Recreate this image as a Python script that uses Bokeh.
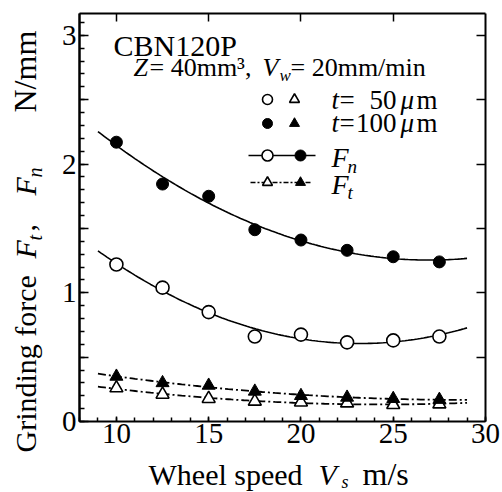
import numpy as np
from bokeh.plotting import figure
from bokeh.models import Range1d, LinearAxis, FixedTicker, Label
from bokeh.embed import file_html
from bokeh.resources import INLINE

# Wheel speed (m/s) and measured grinding forces (N/mm)
speed = [10, 12.5, 15, 17.5, 20, 22.5, 25, 27.5]
fn_t50 = [1.22, 1.04, 0.85, 0.66, 0.675, 0.615, 0.63, 0.66]
fn_t100 = [2.17, 1.845, 1.75, 1.49, 1.41, 1.33, 1.28, 1.24]
ft_t50 = [0.26, 0.21, 0.177, 0.156, 0.15, 0.143, 0.13, 0.135]
ft_t100 = [0.35, 0.30, 0.28, 0.234, 0.20, 0.187, 0.177, 0.17]

x_ticks = [10, 15, 20, 25, 30]
y_ticks = [0, 1, 2, 3]
y_half_ticks = [0.5, 1.5, 2.5]

FONT = "Liberation Serif"
W, H = 502, 492
XMIN, XMAX = 8, 30          # axis box, data units
YMIN, YMAX = 0, 3.17
FL, FR, FT, FB = 79, 485, 13, 421  # axis box edges on the canvas

# the plotting frame spans the whole canvas; the axes sit on the box edges
XPP = (XMAX - XMIN) / (FR - FL)
YPP = (YMAX - YMIN) / (FB - FT)
X_LO = XMIN - FL * XPP
X_HI = X_LO + W * XPP
Y_HI = YMAX + FT * YPP
Y_LO = Y_HI - H * YPP


def X(px):
    return X_LO + px * XPP


def Y(py):
    return Y_HI - py * YPP


p = figure(width=W, height=H, output_backend="svg", toolbar_location=None,
           x_range=Range1d(X_LO, X_HI), y_range=Range1d(Y_LO, Y_HI),
           min_border=0, x_axis_type=None, y_axis_type=None)
p.grid.visible = False
p.outline_line_color = None
p.background_fill_color = "white"
p.border_fill_color = "white"


def axis(ticks, minor, loc, bounds, tick_in, minor_in=0, labelled=False):
    ax = LinearAxis(ticker=FixedTicker(ticks=ticks, minor_ticks=minor),
                    fixed_location=loc, bounds=bounds)
    ax.axis_line_width = 2
    ax.major_tick_out = 0
    ax.minor_tick_out = 0
    ax.major_tick_in = tick_in
    ax.minor_tick_in = minor_in
    ax.major_tick_line_width = 1.5
    ax.minor_tick_line_width = 1.5
    ax.major_label_text_font = FONT
    ax.major_label_text_font_size = "29px"
    ax.major_label_text_color = "black" if labelled else None
    return ax


ybounds = (YMIN, YMAX)
xbounds = (XMIN, XMAX)
left = axis(y_ticks, [round(0.1 * i, 1) for i in range(0, 32)], XMIN, ybounds,
            9, 5, labelled=True)
left.major_label_standoff = 3
left_half = axis(y_half_ticks, [], XMIN, ybounds, 9)
bottom = axis(x_ticks, list(range(8, 31)), YMIN, xbounds, 5, 4, labelled=True)
bottom.major_label_standoff = 2
top = axis([10, 15, 20, 25], [], YMAX, xbounds, 8)
right = axis([0.5, 1, 1.5, 2, 2.5, 3], [], XMAX, ybounds, 9)

p.add_layout(left, "left")
p.add_layout(left_half, "left")
p.add_layout(bottom, "below")
p.add_layout(top, "above")
p.add_layout(right, "right")

# quadratic fits through each series
xs = np.linspace(9, 29, 120)


def fit(vals):
    c = np.polyfit(speed, vals, 2)
    return np.polyval(c, xs)


p.line(xs, fit(fn_t50), line_color="black", line_width=1.6)
p.line(xs, fit(fn_t100), line_color="black", line_width=1.6)
DASH = "8 3 2 3"
p.line(xs, fit(ft_t50), line_color="black", line_width=1.8, line_dash=DASH)
p.line(xs, fit(ft_t100), line_color="black", line_width=1.8, line_dash=DASH)

p.scatter(speed, fn_t50, marker="circle", size=13, fill_color="white",
          line_color="black", line_width=1.6)
p.scatter(speed, fn_t100, marker="circle", size=12, fill_color="black",
          line_color="black")
p.scatter(speed, ft_t50, marker="triangle", size=13, fill_color="white",
          line_color="black", line_width=1.6)
p.scatter(speed, ft_t100, marker="triangle", size=13, fill_color="black",
          line_color="black")

# baseline correction for text placement (fraction of the font size)
LIFT = 0.33


def label(px, py, text, size=28, style="normal", angle=0.0, align="left"):
    if angle:
        px -= LIFT * size
    else:
        py -= LIFT * size
    p.add_layout(Label(x=X(px), y=Y(py), text=text, text_font=FONT,
                       text_font_size=f"{size}px", text_font_style=style,
                       text_color="black", text_align=align,
                       text_baseline="alphabetic", angle=angle))


# title block
label(113, 55, "CBN120P", 30)
label(133, 76, "Z", 26, "italic")
label(149, 76, "= 40mm³,", 26)
label(262, 76, "V", 26, "italic")
label(279, 81, "w", 17, "italic")
label(290, 76, "= 20mm/min", 26)

# legend
p.scatter([X(267)], [Y(99)], marker="circle", size=10, fill_color="white",
          line_color="black", line_width=1.6)
p.scatter([X(294)], [Y(99)], marker="triangle", size=10, fill_color="white",
          line_color="black", line_width=1.6)
p.scatter([X(267)], [Y(123)], marker="circle", size=10, fill_color="black",
          line_color="black")
p.scatter([X(294)], [Y(123)], marker="triangle", size=10, fill_color="black",
          line_color="black")
for base, num in ((108, "50"), (131, "100")):
    label(331, base, "t", 27, "italic")
    label(339, base, "=", 27)
    label(396, base, num, 27, align="right")
    label(400, base, "μ", 27, "italic")
    label(416, base, "m", 27)

p.line([X(248), X(315)], [Y(155), Y(155)], line_color="black", line_width=1.6)
p.scatter([X(267)], [Y(155)], marker="circle", size=11, fill_color="white",
          line_color="black", line_width=1.6)
p.scatter([X(300)], [Y(155)], marker="circle", size=11, fill_color="black",
          line_color="black")
p.line([X(250), X(310)], [Y(182), Y(182)], line_color="black", line_width=1.6,
       line_dash="5 2 2 2")
p.scatter([X(267)], [Y(182)], marker="triangle", size=10, fill_color="white",
          line_color="black", line_width=1.6)
p.scatter([X(300)], [Y(182)], marker="triangle", size=10, fill_color="black",
          line_color="black")
label(331, 166, "F", 28, "italic")
label(347, 172, "n", 19, "italic")
label(331, 193, "F", 28, "italic")
label(347, 198, "t", 19, "italic")

# x axis title
label(148, 484, "Wheel speed", 30)
label(318, 484, "V", 30, "italic")
label(341, 487, "s", 18, "italic")
label(362, 484, "m/s", 32)

# y axis title, rotated
A = np.pi / 2
BX = 35
label(BX, 452, "Grinding force", 30, angle=A)
label(BX, 258, "F", 30, "italic", angle=A)
label(BX + 6, 240, "t", 20, "italic", angle=A)
label(BX, 231, ",", 30, angle=A)
label(BX, 195, "F", 30, "italic", angle=A)
label(BX + 6, 177, "n", 20, "italic", angle=A)
label(BX, 112, "N/mm", 32, angle=A)

open("out.html", "w").write(file_html(p, INLINE))
